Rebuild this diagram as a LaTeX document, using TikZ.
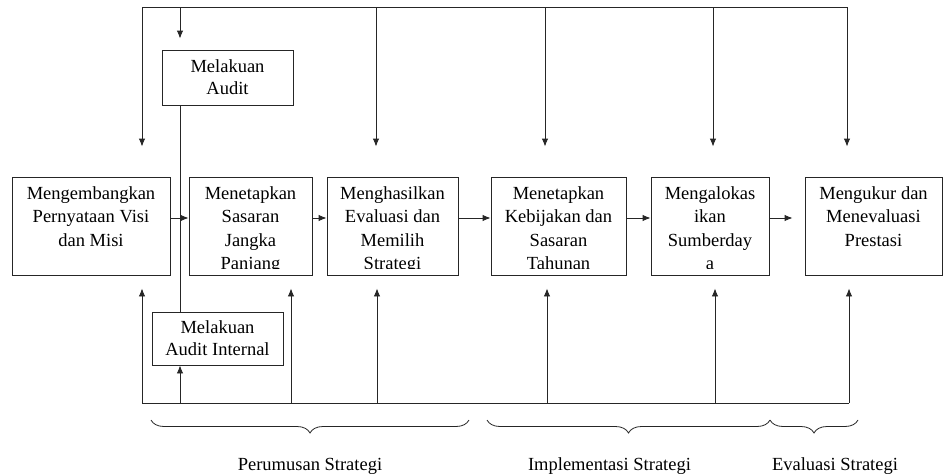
\documentclass[tikz,border=0pt]{standalone}
\usepackage{fontspec}
\setmainfont{Liberation Serif}
\usetikzlibrary{arrows.meta,decorations.pathreplacing}
\begin{document}
\begin{tikzpicture}[x=1pt,y=-1pt,
  box/.style={draw=black!85, line width=0.9pt, rectangle, inner sep=0pt},
  line/.style={draw=black!85, line width=0.9pt},
  arr/.style={line, -{Latex[length=8pt,width=6.5pt]}},
  txt/.style={font=\fontsize{18.5}{23.5}\selectfont, align=center, inner sep=0pt, anchor=north},
  ctxt/.style={font=\fontsize{18.5}{22}\selectfont, align=center, inner sep=0pt},
  lbl/.style={font=\fontsize{18.5}{22}\selectfont, inner sep=0pt, anchor=base},
  brc/.style={decorate, decoration={brace, mirror, amplitude=13pt}, draw=black!85, line width=0.8pt}]
\useasboundingbox (0,0) rectangle (943,474);

% main boxes
\node[box, minimum width=158pt, minimum height=98pt] (b1) at (91,226) {};
\node[box, minimum width=123pt, minimum height=98pt] (b2) at (250.5,226) {};
\node[box, minimum width=131pt, minimum height=98pt] (b3) at (392.5,226) {};
\node[box, minimum width=135pt, minimum height=98pt] (b4) at (558.5,226) {};
\node[box, minimum width=118pt, minimum height=98pt] (b5) at (710,226) {};
\node[box, minimum width=137pt, minimum height=98pt] (b6) at (873.5,226) {};

% audit boxes
\node[box, minimum width=131pt, minimum height=55pt, ctxt] (audit) at (227.5,77.5) {Melakuan\\Audit};
\node[box, minimum width=131pt, minimum height=53pt, ctxt] (ai) at (217.5,338.5) {Melakuan\\Audit Internal};

% box texts (clipped to the inner text area of the boxes)
\begin{scope}\clip (b1.north west) rectangle ([yshift=6.5pt]b1.south east);
\node[txt] (t1) at ([yshift=-6pt]b1.north) {\strut Mengembangkan\\Pernyataan Visi\\dan Misi};\end{scope}
\begin{scope}\clip (b2.north west) rectangle ([yshift=6.5pt]b2.south east);
\node[txt] (t2) at ([yshift=-6pt]b2.north) {\strut Menetapkan\\Sasaran\\Jangka\\Panjang};\end{scope}
\begin{scope}\clip (b3.north west) rectangle ([yshift=6.5pt]b3.south east);
\node[txt] (t3) at ([yshift=-6pt]b3.north) {\strut Menghasilkan\\Evaluasi dan\\Memilih\\Strategi};\end{scope}
\begin{scope}\clip (b4.north west) rectangle ([yshift=6.5pt]b4.south east);
\node[txt] (t4) at ([yshift=-6pt]b4.north) {\strut Menetapkan\\Kebijakan dan\\Sasaran\\Tahunan};\end{scope}
\begin{scope}\clip (b5.north west) rectangle ([yshift=6.5pt]b5.south east);
\node[txt] (t5) at ([yshift=-6pt]b5.north) {\strut Mengalokas\\ikan\\Sumberday\\a};\end{scope}
\begin{scope}\clip (b6.north west) rectangle ([yshift=6.5pt]b6.south east);
\node[txt] (t6) at ([yshift=-6pt]b6.north) {\strut Mengukur dan\\Menevaluasi\\Prestasi};\end{scope}

% horizontal arrows
\draw[arr] ([yshift=8pt]b1.east) -- ([yshift=8pt]b2.west);
\draw[arr] ([yshift=8pt]b2.east) -- ([yshift=8pt]b3.west);
\draw[arr] ([yshift=8pt]b3.east) -- ([yshift=8pt]b4.west);
\draw[arr] ([yshift=8pt]b4.east) -- ([yshift=8pt]b5.west);
\draw[arr] ([yshift=8pt]b5.east) -- ([xshift=-12pt,yshift=8pt]b6.west);

% top feedback
\coordinate (T1) at (142,7);
\coordinate (T2) at (180,7);
\coordinate (T3) at (376,7);
\coordinate (T4) at (545,7);
\coordinate (T5) at (713,7);
\coordinate (T6) at (847,7);
\draw[line] (T1) -- (T6);
\draw[arr] (T1) -- ([yshift=30pt]T1 |- b1.north);
\draw[arr] (T2) -- ([yshift=11pt]T2 |- audit.north);
\draw[arr] (T3) -- ([yshift=30pt]T3 |- b3.north);
\draw[arr] (T4) -- ([yshift=30pt]T4 |- b4.north);
\draw[arr] (T5) -- ([yshift=30pt]T5 |- b5.north);
\draw[arr] (T6) -- ([yshift=30pt]T6 |- b6.north);

% audit vertical line
\draw[line] (T2 |- audit.south) -- (T2 |- ai.north);

% bottom feedback
\coordinate (B1) at (142,403);
\coordinate (B2) at (180,403);
\coordinate (B3) at (291,403);
\coordinate (B4) at (377,403);
\coordinate (B5) at (547,403);
\coordinate (B6) at (715,403);
\coordinate (B7) at (849,403);
\draw[line] (B1) -- (B7);
\draw[arr] (B1) -- ([yshift=-13pt]B1 |- b1.south);
\draw[arr] (B2) -- (B2 |- ai.south);
\draw[arr] (B3) -- ([yshift=-13pt]B3 |- b2.south);
\draw[arr] (B4) -- ([yshift=-13pt]B4 |- b3.south);
\draw[arr] (B5) -- ([yshift=-13pt]B5 |- b4.south);
\draw[arr] (B6) -- ([yshift=-13pt]B6 |- b5.south);
\draw[arr] (B7) -- ([yshift=-13pt]B7 |- b6.south);

% braces
\coordinate (P1) at (151,420);
\coordinate (P2) at (469,420);
\coordinate (I1) at (487,420);
\coordinate (I2) at (770,420);
\coordinate (E1) at (770,420);
\coordinate (E2) at (858,420);
\draw[brc] (P1) -- (P2);
\draw[brc] (I1) -- (I2);
\draw[brc] (E1) -- (E2);

% labels
\node[lbl] (l1) at (310,470) {Perumusan Strategi};
\node[lbl] (l2) at (609.5,470) {Implementasi Strategi};
\node[lbl] (l3) at (835,470) {Evaluasi Strategi};
\end{tikzpicture}
\end{document}
